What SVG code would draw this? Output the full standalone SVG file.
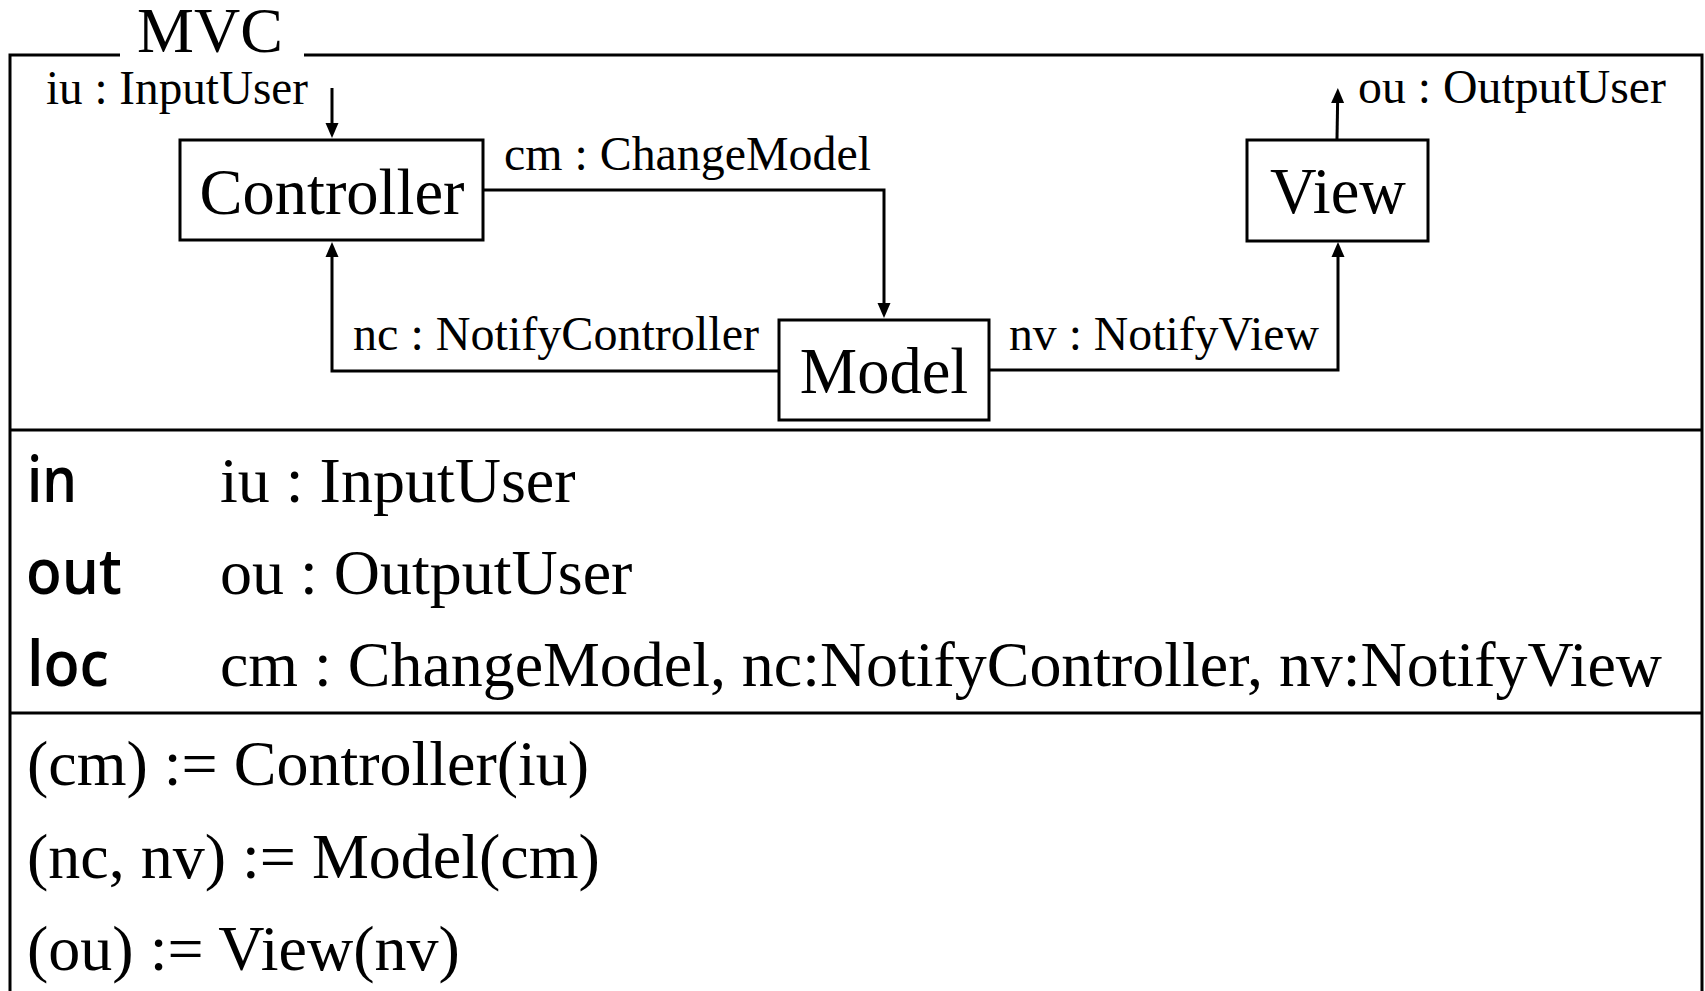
<svg xmlns="http://www.w3.org/2000/svg" width="1705" height="991" viewBox="0 0 1705 991">
<style>
.ln{fill:none;stroke:#000;stroke-width:3}
.box{fill:#fff;stroke:#000;stroke-width:3}
.serif{font-family:"Liberation Serif","Times New Roman",serif;fill:#000}
.node{font-size:64.5px;text-anchor:middle}
.lab{font-size:47.5px}
.row{font-size:64px}
.sans{font-family:"Open Sans","Noto Sans",sans-serif;font-size:64px;font-weight:600;fill:#000}
</style>
<defs>
<marker id="ah" markerUnits="userSpaceOnUse" markerWidth="16" markerHeight="14" refX="0" refY="6.5" orient="auto" overflow="visible">
<path d="M0,0 L15,6.5 L0,13 z" fill="#000"/>
</marker>
</defs>
<rect width="1705" height="991" fill="#fff"/>
<g id="frame">
<path class="ln" d="M10,991 V55 H120 M304,55 H1702 V991"/>
<text class="serif" x="137" y="52" font-size="64">MVC</text>
<path class="ln" d="M10,430 H1702 M10,713 H1702"/>
</g>
<g id="connectors">
<path class="ln" d="M332,88 V123" marker-end="url(#ah)"/>
<path class="ln" d="M484,190 H884 V303" marker-end="url(#ah)"/>
<path class="ln" d="M779,371 H332 V257" marker-end="url(#ah)"/>
<path class="ln" d="M989,370 H1338 V257" marker-end="url(#ah)"/>
<path class="ln" d="M1337,139 L1337.6,103" marker-end="url(#ah)"/>
<text class="serif lab" x="46" y="104" textLength="262" lengthAdjust="spacingAndGlyphs">iu : InputUser</text>
<text class="serif lab" x="504" y="170" textLength="367" lengthAdjust="spacingAndGlyphs">cm : ChangeModel</text>
<text class="serif lab" x="353" y="350" textLength="406" lengthAdjust="spacingAndGlyphs">nc : NotifyController</text>
<text class="serif lab" x="1009" y="350" textLength="310" lengthAdjust="spacingAndGlyphs">nv : NotifyView</text>
<text class="serif lab" x="1358" y="103" textLength="308" lengthAdjust="spacingAndGlyphs">ou : OutputUser</text>
</g>
<g id="controller">
<rect class="box" x="180" y="140" width="303" height="100"/>
<text class="serif node" x="332" y="214">Controller</text>
</g>
<g id="model">
<rect class="box" x="779" y="320" width="210" height="100"/>
<text class="serif node" x="884" y="393">Model</text>
</g>
<g id="view">
<rect class="box" x="1247" y="140" width="181" height="101"/>
<text class="serif node" x="1338" y="213">View</text>
</g>
<g id="declarations">
<text class="sans" x="27" y="502" textLength="50" lengthAdjust="spacingAndGlyphs">in</text>
<text class="sans" x="26" y="594" textLength="96" lengthAdjust="spacingAndGlyphs">out</text>
<text class="sans" x="27" y="686" textLength="82" lengthAdjust="spacingAndGlyphs">loc</text>
<text class="serif row" x="220" y="502">iu : InputUser</text>
<text class="serif row" x="220" y="594">ou : OutputUser</text>
<text class="serif row" x="220" y="686" textLength="1442" lengthAdjust="spacingAndGlyphs">cm : ChangeModel, nc:NotifyController, nv:NotifyView</text>
</g>
<g id="statements">
<text class="serif row" x="27" y="785">(cm) := Controller(iu)</text>
<text class="serif row" x="27" y="878">(nc, nv) := Model(cm)</text>
<text class="serif row" x="27" y="970">(ou) := View(nv)</text>
</g>
</svg>
